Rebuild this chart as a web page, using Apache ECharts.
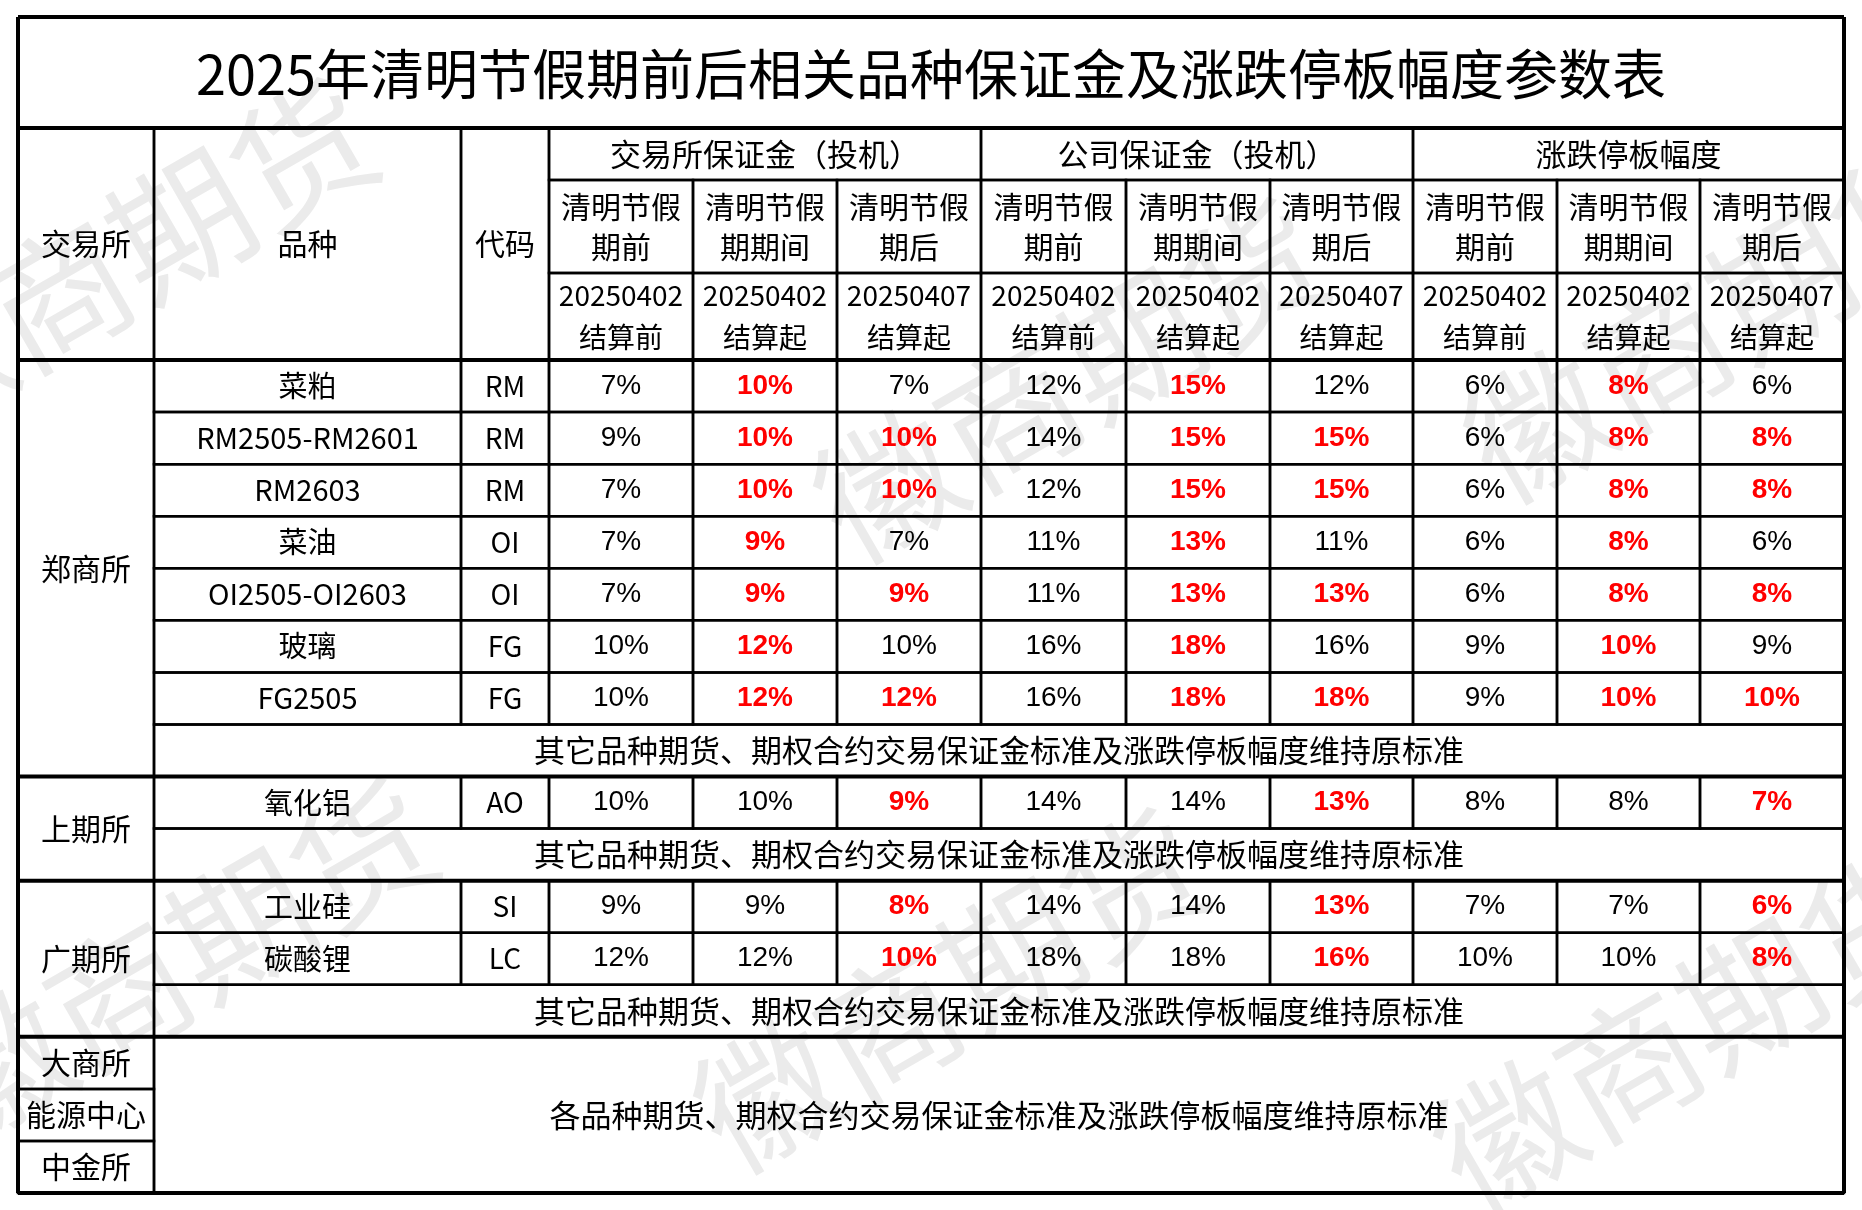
<!DOCTYPE html>
<html>
<head>
<meta charset="utf-8">
<script src="https://cdn.jsdelivr.net/npm/echarts@6/dist/echarts.min.js"></script>
<style>html,body{margin:0;padding:0;background:#fff}#main{width:1862px;height:1210px}</style>
</head>
<body>
<div id="main"></div>
<script>
// 表格数据
const title = "2025年清明节假期前后相关品种保证金及涨跌停板幅度参数表";
const groups = ["交易所保证金（投机）", "公司保证金（投机）", "涨跌停板幅度"];
const phases = [["清明节假", "期前"], ["清明节假", "期期间"], ["清明节假", "期后"]];
const dates = [["20250402", "结算前"], ["20250402", "结算起"], ["20250407", "结算起"]];
const products = ["菜粕", "RM2505-RM2601", "RM2603", "菜油", "OI2505-OI2603", "玻璃", "FG2505", "氧化铝", "工业硅", "碳酸锂"];
const codes = ["RM", "RM", "RM", "OI", "OI", "FG", "FG", "AO", "SI", "LC"];
const exchMargin = [[7, 10, 7], [9, 10, 10], [7, 10, 10], [7, 9, 7], [7, 9, 9], [10, 12, 10], [10, 12, 12], [10, 10, 9], [9, 9, 8], [12, 12, 10]];
const compMargin = [[12, 15, 12], [14, 15, 15], [12, 15, 15], [11, 13, 11], [11, 13, 13], [16, 18, 16], [16, 18, 18], [14, 14, 13], [14, 14, 13], [18, 18, 16]];
const limits = [[6, 8, 6], [6, 8, 8], [6, 8, 8], [6, 8, 6], [6, 8, 8], [9, 10, 9], [9, 10, 10], [8, 8, 7], [7, 7, 6], [10, 10, 8]];
const note = "其它品种期货、期权合约交易保证金标准及涨跌停板幅度维持原标准";
const note2 = "各品种期货、期权合约交易保证金标准及涨跌停板幅度维持原标准";
// 行布局：p=品种行, n=说明行
const rowKinds = ["p0", "p1", "p2", "p3", "p4", "p5", "p6", "n", "p7", "n", "p8", "p9", "n"];
const exchanges = [["郑商所", 0, 8], ["上期所", 8, 10], ["广期所", 10, 13], ["大商所", 13, 14], ["能源中心", 14, 15], ["中金所", 15, 16]];
const watermark = "徽商期货";

const cx = [18, 154, 461, 549, 693, 837, 981, 1126, 1270, 1413, 1557, 1700, 1844];
const yTop = 17, yTitle = 128, yG = 180, yP = 273, yH = 360, yB = 1193;
const rh = (yB - yH) / 16;
const ry = i => yH + i * rh;
const CJK = '"Noto Sans CJK SC", sans-serif';
const NUM = '"Liberation Sans Narrow", "Liberation Sans", sans-serif';

const els = [];
[[120, 260], [1070, 380], [180, 960], [950, 990], [1720, 320], [1690, 1030]].forEach(p => {
  els.push({ type: "text", x: p[0], y: p[1], rotation: Math.PI / 6, z: 0,
    style: { text: watermark, font: '140px ' + CJK, fill: "#ebebeb", align: "center", verticalAlign: "middle" } });
});
function txt(x, y, s, opt) {
  opt = opt || {};
  els.push({ type: "text", x: x, y: y, z: 5,
    style: { text: s, font: (opt.font || '28px ' + CJK), fill: opt.color || "#000", align: "center", verticalAlign: "middle", lineHeight: opt.lh || 38 } });
}
function line(x1, y1, x2, y2, w) {
  els.push({ type: "line", z: 4, shape: { x1: x1, y1: y1, x2: x2, y2: y2 }, style: { stroke: "#000", lineWidth: w || 2.5 } });
}
function cell(x1, y1, x2, y2) {
  els.push({ type: "rect", z: 3, shape: { x: x1, y: y1, width: x2 - x1, height: y2 - y1 }, style: { fill: null, stroke: "#000", lineWidth: 2.5 } });
}

// 标题
txt((cx[0] + cx[12]) / 2, (yTop + yTitle) / 2 + 2, title, { font: '54px ' + CJK });
// 表头
cell(cx[0], yTitle, cx[1], yH); txt((cx[0] + cx[1]) / 2, (yTitle + yH) / 2, "交易所", { font: '30px ' + CJK });
cell(cx[1], yTitle, cx[2], yH); txt((cx[1] + cx[2]) / 2, (yTitle + yH) / 2, "品种", { font: '30px ' + CJK });
cell(cx[2], yTitle, cx[3], yH); txt((cx[2] + cx[3]) / 2, (yTitle + yH) / 2, "代码", { font: '30px ' + CJK });
groups.forEach((g, gi) => {
  const a = cx[3 + gi * 3], b = cx[6 + gi * 3];
  cell(a, yTitle, b, yG); txt((a + b) / 2, (yTitle + yG) / 2, g, { font: '31px ' + CJK });
  for (let k = 0; k < 3; k++) {
    const x1 = cx[3 + gi * 3 + k], x2 = cx[4 + gi * 3 + k], m = (x1 + x2) / 2;
    cell(x1, yG, x2, yP); txt(m, (yG + yP) / 2, phases[k].join("\n"), { font: '30px ' + CJK, lh: 40 });
    cell(x1, yP, x2, yH); txt(m, (yP + yH) / 2, dates[k].join("\n"), { font: '28px ' + CJK, lh: 42 });
  }
});
// 数据行
rowKinds.forEach((k, r) => {
  const y1 = ry(r), y2 = ry(r + 1), ym = (y1 + y2) / 2;
  if (k === "n") { cell(cx[1], y1, cx[12], y2); txt((cx[1] + cx[12]) / 2, ym, note, { font: '31px ' + CJK }); return; }
  const i = +k.slice(1);
  cell(cx[1], y1, cx[2], y2); txt((cx[1] + cx[2]) / 2, ym, products[i], { font: '29px ' + CJK });
  cell(cx[2], y1, cx[3], y2); txt((cx[2] + cx[3]) / 2, ym, codes[i], { font: '28px ' + CJK });
  [exchMargin[i], compMargin[i], limits[i]].forEach((vals, gi) => {
    vals.forEach((v, j) => {
      const c = 3 + gi * 3 + j, red = v !== vals[0];
      cell(cx[c], y1, cx[c + 1], y2);
      txt((cx[c] + cx[c + 1]) / 2, ym, v + "%", { font: (red ? 'bold ' : '') + '28px ' + NUM, color: red ? "#ff0000" : "#000" });
    });
  });
});
cell(cx[1], ry(13), cx[12], ry(16)); txt((cx[1] + cx[12]) / 2, (ry(13) + ry(16)) / 2, note2, { font: '31px ' + CJK });
exchanges.forEach(e => { cell(cx[0], ry(e[1]), cx[1], ry(e[2])); txt((cx[0] + cx[1]) / 2, (ry(e[1]) + ry(e[2])) / 2, e[0], { font: '30px ' + CJK }); });
// 粗线
line(cx[0], yTop, cx[12], yTop, 4); line(cx[0], yB, cx[12], yB, 4);
line(cx[0], yTop, cx[0], yB, 4); line(cx[12], yTop, cx[12], yB, 4);
[yTitle, yH, ry(8), ry(10), ry(13)].forEach(y => line(cx[0], y, cx[12], y, 4));

const chart = echarts.init(document.getElementById("main"));
chart.setOption({ backgroundColor: "#fff", graphic: { elements: els } });
</script>
</body>
</html>
